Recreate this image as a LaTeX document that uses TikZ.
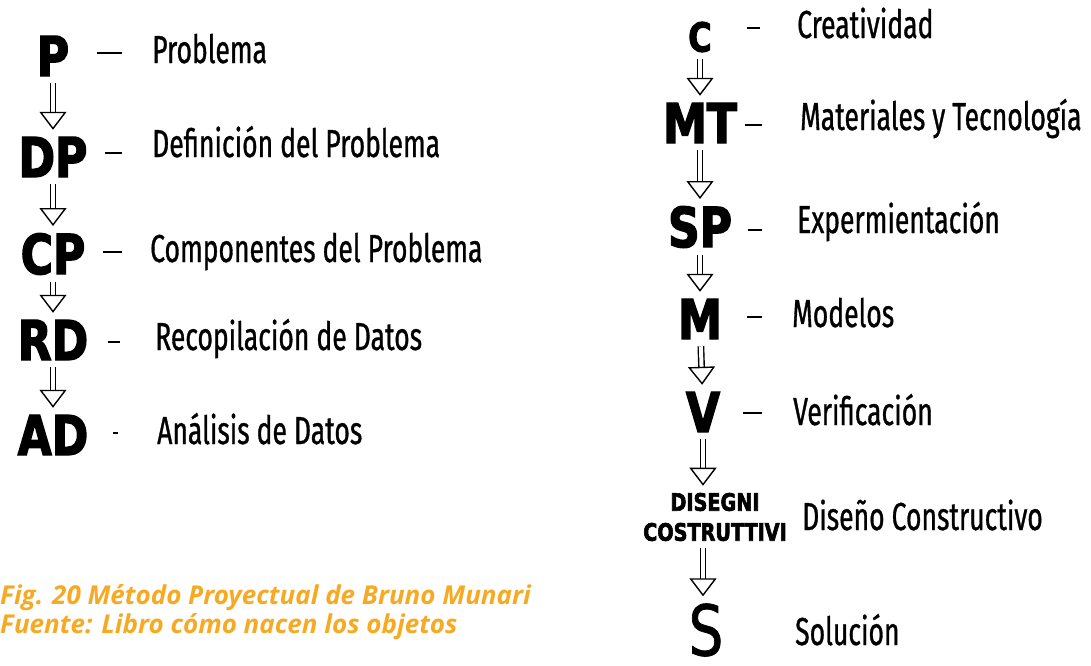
\documentclass[tikz,border=0pt]{standalone}
\usepackage{fontspec}
\usetikzlibrary{arrows.meta}
\newfontfamily\descfont[FakeStretch=0.68, FakeBold=0.8]{Fira Sans}
\newfontfamily\stagefont[FakeStretch=0.8, FakeBold=2.5]{DejaVu Sans Bold}
\newfontfamily\sfont[FakeStretch=0.78, FakeBold=1]{DejaVu Sans}
\newfontfamily\capfont{Open Sans}
\definecolor{capgold}{RGB}{246,170,35}
\tikzset{
  stage/.style={inner sep=0, font=\stagefont\fontsize{55}{55}\selectfont},
  smallstage/.style={inner sep=0, align=center, font=\stagefont\fontsize{24}{30}\selectfont},
  desc/.style={anchor=base west, inner sep=0, font=\descfont\fontsize{39}{39}\selectfont},
  flow/.style={double, double distance=4, line width=1.4,
    -{Triangle[open, length=18, width=27, line width=1.4]},
    shorten <=7, shorten >=7},
  tick/.style={line width=1.8},
  caption/.style={anchor=base west, inner sep=0, text=capgold,
    font=\capfont\bfseries\itshape\fontsize{26}{26}\selectfont},
}
\begin{document}
\begin{tikzpicture}[x=1pt, y=-1pt]
\useasboundingbox (0,0) rectangle (1091,665);

% left column
\node[stage] (P)  at (53,56)  {P};
\node[stage] (DP) at (53,157) {DP};
\node[stage] (CP) at (53,254) {CP};
\node[stage] (RD) at (53,340) {RD};
\node[stage] (AD) at (53,435) {AD};
\draw[flow] (P) -- (DP);
\draw[flow] (DP) -- (CP);
\draw[flow] (CP) -- (RD);
\draw[flow] (RD) -- (AD);

\node[desc] (lP)  at (152,63)  {Problema};
\node[desc] (lDP) at (152,157) {Definición del Problema};
\node[desc] (lCP) at (150,262) {Componentes del Problema};
\node[desc] (lRD) at (155,350) {Recopilación de Datos};
\node[desc] (lAD) at (157,444) {Análisis de Datos};

% right column
\node[stage, font=\stagefont\fontsize{40}{40}\selectfont] (C) at (700,37) {C};
\node[stage] (MT) at (700,123) {MT};
\node[stage] (SP) at (700,227) {SP};
\node[stage] (M)  at (700,319) {M};
\node[stage] (V)  at (703,412) {V};
\node[smallstage] (DC) at (715,517) {DISEGNI\\COSTRUTTIVI};
\node[stage, font=\sfont\fontsize{70}{70}\selectfont] (S) at (706,630) {S};
\draw[flow] (C) -- (MT);
\draw[flow] (MT) -- (SP);
\draw[flow] (SP) -- (M);
\draw[flow] (M) -- (V);
\draw[flow] (V) -- (V |- DC.north);
\draw[flow] (V |- DC.south) -- (V |- S.north);

\node[desc] (lC)  at (797,38)  {Creatividad};
\node[desc] (lMT) at (800,130) {Materiales y Tecnología};
\node[desc] (lSP) at (797,233) {Expermientación};
\node[desc] (lM)  at (792,327) {Modelos};
\node[desc] (lV)  at (793,425) {Verificación};
\node[desc] (lDC) at (802,530) {Diseño Constructivo};
\node[desc] (lS)  at (795,645) {Solución};

% little dashes
\foreach \xa/\xb/\y in {97/122/53, 105/122/153, 103/122/252, 108/120/342, 113/118/433,
  747/760/28, 745/762/125, 748/762/230, 747/762/317, 743/762/413}
  \draw[tick] (\xa,\y) -- (\xb,\y);

% caption
\node[caption] (cap1) at (0,604) {Fig. 20 Método Proyectual de Bruno Munari};
\node[caption] (cap2) at (0,633) {Fuente: Libro cómo nacen los objetos};
\end{tikzpicture}
\end{document}
